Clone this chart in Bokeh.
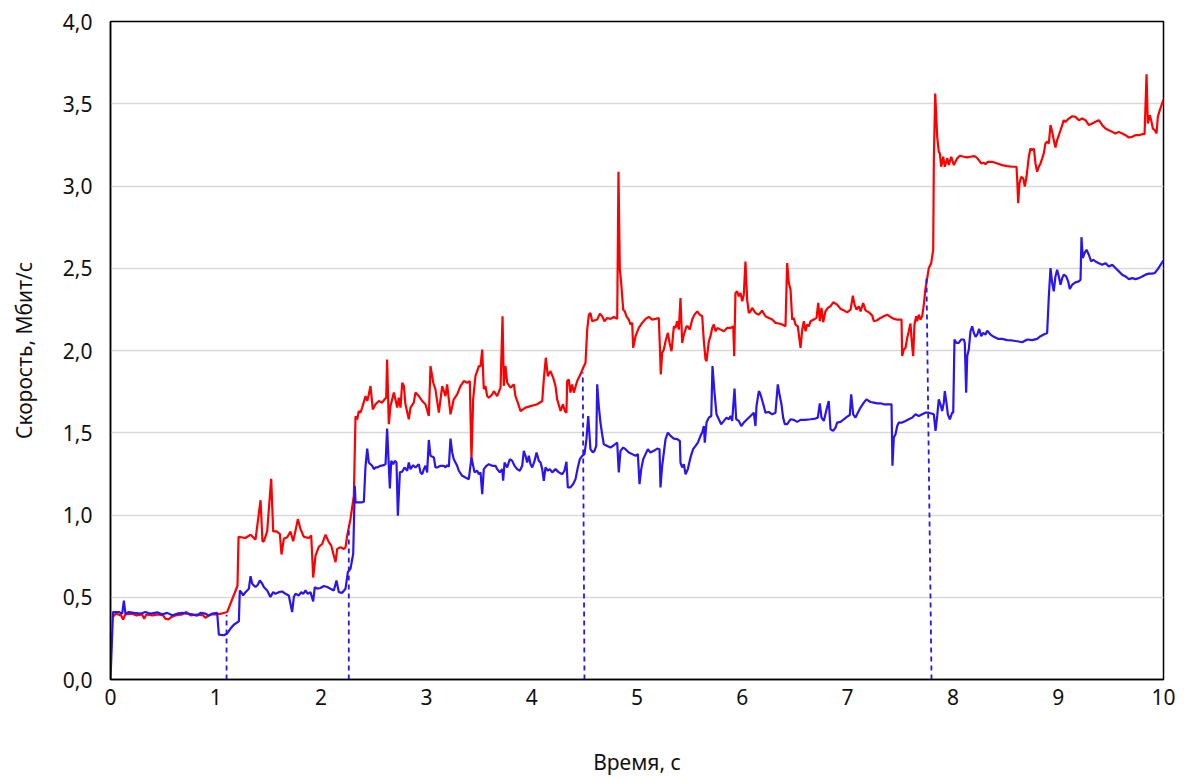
from bokeh.plotting import figure
from bokeh.models import FixedTicker, Range1d
from bokeh.embed import file_html
from bokeh.resources import INLINE

# (time s, speed Mbit/s)
red_points = [
    (0.020, 0.380), (0.050, 0.400), (0.100, 0.390), (0.120, 0.365), (0.140, 0.395), (0.200, 0.400),
    (0.250, 0.390), (0.300, 0.395), (0.320, 0.370), (0.340, 0.395), (0.400, 0.390), (0.450, 0.395),
    (0.500, 0.390), (0.520, 0.370), (0.550, 0.365), (0.580, 0.380), (0.620, 0.390), (0.680, 0.395),
    (0.720, 0.410), (0.760, 0.390), (0.820, 0.395), (0.880, 0.390), (0.900, 0.375), (0.950, 0.395),
    (1.000, 0.395), (1.050, 0.400), (1.108, 0.410),
    (1.206, 0.570), (1.216, 0.867), (1.280, 0.860), (1.330, 0.880), (1.377, 0.850), (1.425, 1.090),
    (1.443, 0.840), (1.456, 0.840), (1.488, 0.900), (1.526, 1.220), (1.545, 0.900), (1.576, 0.900),
    (1.608, 0.885), (1.624, 0.760), (1.646, 0.855), (1.678, 0.865), (1.709, 0.900), (1.735, 0.840),
    (1.757, 0.905), (1.779, 0.975), (1.804, 0.915), (1.836, 0.867), (1.883, 0.860), (1.906, 0.875),
    (1.925, 0.620), (1.947, 0.753), (1.978, 0.806), (2.010, 0.824), (2.042, 0.880), (2.073, 0.835),
    (2.096, 0.814), (2.137, 0.713), (2.153, 0.794), (2.184, 0.804), (2.216, 0.794), (2.232, 0.804),
    (2.248, 0.875), (2.279, 0.976), (2.311, 1.117), (2.327, 1.600),
    (2.343, 1.580), (2.358, 1.632), (2.374, 1.622), (2.390, 1.653), (2.422, 1.723), (2.438, 1.693),
    (2.453, 1.733), (2.469, 1.784), (2.491, 1.642), (2.517, 1.673), (2.548, 1.693), (2.580, 1.683),
    (2.602, 1.703), (2.618, 1.713), (2.627, 1.945), (2.643, 1.552), (2.659, 1.662), (2.691, 1.744),
    (2.723, 1.653), (2.738, 1.713), (2.754, 1.653), (2.770, 1.804), (2.786, 1.784), (2.801, 1.673),
    (2.833, 1.582), (2.849, 1.653), (2.880, 1.683), (2.896, 1.744), (2.928, 1.723), (2.960, 1.693),
    (2.991, 1.673), (3.023, 1.602), (3.039, 1.905), (3.065, 1.804), (3.086, 1.764), (3.118, 1.622),
    (3.150, 1.784), (3.181, 1.723), (3.197, 1.794), (3.213, 1.703), (3.229, 1.612), (3.260, 1.703),
    (3.292, 1.733), (3.324, 1.784), (3.355, 1.814), (3.387, 1.804), (3.412, 1.814), (3.428, 1.340),
    (3.444, 1.703), (3.466, 1.844), (3.498, 1.905), (3.514, 1.905), (3.530, 2.006), (3.545, 1.764),
    (3.561, 1.784), (3.577, 1.723), (3.593, 1.713), (3.625, 1.733), (3.640, 1.753), (3.672, 1.723),
    (3.704, 1.774), (3.723, 2.208), (3.735, 1.784), (3.751, 1.905), (3.767, 1.804), (3.799, 1.774),
    (3.830, 1.794), (3.846, 1.723), (3.868, 1.683), (3.894, 1.632), (3.941, 1.653), (3.989, 1.662),
    (4.052, 1.673), (4.100, 1.693), (4.115, 1.824), (4.134, 1.956), (4.153, 1.844), (4.179, 1.875),
    (4.204, 1.834), (4.226, 1.784), (4.242, 1.703), (4.274, 1.632), (4.296, 1.673), (4.315, 1.632),
    (4.330, 1.622), (4.337, 1.814), (4.352, 1.824), (4.368, 1.744), (4.384, 1.794), (4.400, 1.744),
    (4.432, 1.814), (4.463, 1.855), (4.489, 1.895), (4.511, 1.926), (4.527, 2.127), (4.543, 2.218),
    (4.558, 2.228), (4.574, 2.178), (4.622, 2.188), (4.647, 2.224), (4.669, 2.208), (4.691, 2.178),
    (4.717, 2.198), (4.748, 2.192), (4.780, 2.204), (4.812, 2.192), (4.824, 3.087), (4.837, 2.491),
    (4.850, 2.410), (4.869, 2.248), (4.884, 2.238), (4.900, 2.208), (4.922, 2.188), (4.938, 2.158),
    (4.954, 2.168), (4.964, 2.016), (4.986, 2.087), (5.017, 2.137), (5.049, 2.168), (5.081, 2.192),
    (5.112, 2.204), (5.144, 2.188), (5.176, 2.192), (5.207, 2.198), (5.217, 2.026), (5.226, 1.855),
    (5.239, 1.986), (5.255, 2.006), (5.271, 2.056), (5.293, 2.107), (5.312, 2.036), (5.328, 1.996),
    (5.350, 2.147), (5.366, 2.137), (5.381, 2.178), (5.397, 2.127), (5.413, 2.319), (5.429, 2.046),
    (5.445, 2.097), (5.470, 2.147), (5.483, 2.147), (5.502, 2.127), (5.524, 2.188), (5.546, 2.218),
    (5.572, 2.238), (5.596, 2.218), (5.619, 2.208), (5.635, 2.056), (5.651, 1.945), (5.660, 1.935),
    (5.682, 2.056), (5.698, 2.087), (5.714, 2.137), (5.730, 2.158), (5.746, 2.117), (5.762, 2.137),
    (5.793, 2.127), (5.825, 2.117), (5.856, 2.137), (5.888, 2.137), (5.914, 2.147), (5.923, 1.966),
    (5.935, 2.350), (5.951, 2.360), (5.967, 2.329), (5.983, 2.350), (5.999, 2.299), (6.014, 2.339),
    (6.030, 2.541), (6.046, 2.309), (6.062, 2.228), (6.078, 2.238), (6.094, 2.259), (6.125, 2.228),
    (6.157, 2.218), (6.188, 2.242), (6.220, 2.208), (6.252, 2.198), (6.284, 2.188), (6.315, 2.168),
    (6.347, 2.164), (6.379, 2.158), (6.410, 2.147), (6.426, 2.531), (6.442, 2.410), (6.458, 2.370),
    (6.474, 2.188), (6.489, 2.198), (6.505, 2.158), (6.527, 2.147), (6.553, 2.016), (6.569, 2.127),
    (6.584, 2.178), (6.600, 2.117), (6.616, 2.158), (6.632, 2.147), (6.648, 2.178), (6.679, 2.188),
    (6.705, 2.198), (6.721, 2.289), (6.736, 2.178), (6.752, 2.259), (6.768, 2.172), (6.790, 2.238),
    (6.812, 2.259), (6.838, 2.269), (6.863, 2.293), (6.901, 2.279), (6.933, 2.253), (6.964, 2.244),
    (6.996, 2.232), (7.028, 2.248), (7.050, 2.333), (7.066, 2.279), (7.085, 2.248), (7.107, 2.269),
    (7.123, 2.238), (7.148, 2.289), (7.170, 2.244), (7.202, 2.232), (7.234, 2.212), (7.249, 2.178),
    (7.281, 2.184), (7.312, 2.198), (7.344, 2.208), (7.376, 2.218), (7.407, 2.204), (7.439, 2.192),
    (7.471, 2.188), (7.512, 2.188), (7.518, 1.966), (7.534, 2.006), (7.550, 2.016), (7.566, 2.077),
    (7.581, 2.117), (7.597, 2.164), (7.613, 2.026), (7.623, 1.966), (7.635, 2.158), (7.651, 2.208),
    (7.661, 2.178), (7.676, 2.218), (7.692, 2.188), (7.708, 2.208), (7.724, 2.279), (7.740, 2.380),
    (7.756, 2.441), (7.771, 2.501), (7.794, 2.531), (7.813, 2.612), (7.819, 3.158), (7.832, 3.562),
    (7.851, 3.299), (7.866, 3.208), (7.876, 3.198), (7.889, 3.117), (7.908, 3.178), (7.923, 3.117),
    (7.946, 3.168), (7.961, 3.127), (7.984, 3.178), (8.009, 3.127), (8.041, 3.168), (8.066, 3.184),
    (8.104, 3.178), (8.136, 3.174), (8.167, 3.178), (8.199, 3.182), (8.224, 3.174), (8.246, 3.158),
    (8.269, 3.137), (8.294, 3.141), (8.310, 3.133), (8.332, 3.147), (8.373, 3.147), (8.421, 3.137),
    (8.468, 3.127), (8.516, 3.121), (8.563, 3.117), (8.604, 3.117), (8.611, 3.036), (8.620, 2.895),
    (8.632, 3.016), (8.649, 3.056), (8.668, 3.046), (8.683, 2.996), (8.699, 3.056), (8.721, 3.178),
    (8.737, 3.228), (8.753, 3.218), (8.769, 3.228), (8.784, 3.137), (8.800, 3.087), (8.816, 3.117),
    (8.832, 3.137), (8.848, 3.168), (8.863, 3.198), (8.879, 3.259), (8.895, 3.269), (8.911, 3.259),
    (8.927, 3.370), (8.943, 3.329), (8.958, 3.279), (8.974, 3.234), (8.990, 3.279), (9.006, 3.309),
    (9.022, 3.339), (9.038, 3.370), (9.053, 3.400), (9.069, 3.390), (9.101, 3.410), (9.133, 3.424),
    (9.164, 3.420), (9.196, 3.400), (9.228, 3.410), (9.259, 3.400), (9.291, 3.370), (9.323, 3.380),
    (9.354, 3.390), (9.386, 3.400), (9.418, 3.370), (9.449, 3.349), (9.481, 3.339), (9.513, 3.329),
    (9.544, 3.319), (9.576, 3.329), (9.608, 3.319), (9.639, 3.309), (9.671, 3.295), (9.703, 3.299),
    (9.734, 3.309), (9.766, 3.309), (9.798, 3.315), (9.820, 3.315), (9.839, 3.679), (9.851, 3.380),
    (9.870, 3.430), (9.883, 3.400), (9.899, 3.349), (9.917, 3.339), (9.934, 3.319), (9.946, 3.420),
    (9.965, 3.461), (9.981, 3.491), (10.000, 3.525),
]

blue_points = [
    (0.000, 0.000), (0.024, 0.410), (0.047, 0.410), (0.079, 0.410), (0.111, 0.400), (0.127, 0.480),
    (0.142, 0.400), (0.174, 0.410), (0.222, 0.405), (0.285, 0.400), (0.332, 0.410), (0.380, 0.400),
    (0.443, 0.408), (0.491, 0.396), (0.538, 0.405), (0.586, 0.390), (0.633, 0.400), (0.681, 0.405),
    (0.728, 0.400), (0.776, 0.396), (0.823, 0.388), (0.855, 0.405), (0.902, 0.400), (0.934, 0.388),
    (0.965, 0.400), (1.013, 0.405), (1.029, 0.273), (1.076, 0.269), (1.108, 0.280), (1.140, 0.310),
    (1.171, 0.333), (1.219, 0.353),
    (1.228, 0.541), (1.241, 0.531), (1.260, 0.511), (1.282, 0.531), (1.314, 0.552), (1.330, 0.628),
    (1.346, 0.582), (1.361, 0.572), (1.377, 0.562), (1.399, 0.576), (1.418, 0.602), (1.441, 0.582),
    (1.456, 0.562), (1.488, 0.541), (1.519, 0.501), (1.545, 0.531), (1.567, 0.521), (1.599, 0.531),
    (1.630, 0.535), (1.662, 0.521), (1.693, 0.511), (1.725, 0.410), (1.741, 0.501), (1.757, 0.521),
    (1.789, 0.511), (1.811, 0.531), (1.830, 0.521), (1.852, 0.541), (1.874, 0.521), (1.899, 0.531),
    (1.925, 0.475), (1.940, 0.562), (1.963, 0.552), (1.994, 0.556), (2.026, 0.568), (2.058, 0.562),
    (2.089, 0.552), (2.121, 0.541), (2.146, 0.602), (2.168, 0.531), (2.200, 0.527), (2.232, 0.552),
    (2.254, 0.653), (2.279, 0.673), (2.305, 0.764), (2.320, 1.178),
    (2.327, 1.077), (2.358, 1.077), (2.390, 1.077), (2.406, 1.081), (2.422, 1.299), (2.438, 1.404),
    (2.453, 1.319), (2.469, 1.309), (2.485, 1.299), (2.501, 1.279), (2.517, 1.289), (2.533, 1.289),
    (2.564, 1.299), (2.596, 1.303), (2.612, 1.309), (2.627, 1.525), (2.643, 1.299), (2.653, 1.162),
    (2.666, 1.329), (2.685, 1.309), (2.700, 1.329), (2.716, 1.319), (2.729, 0.996), (2.748, 1.259),
    (2.770, 1.263), (2.792, 1.289), (2.818, 1.269), (2.833, 1.319), (2.849, 1.279), (2.874, 1.303),
    (2.896, 1.289), (2.928, 1.309), (2.944, 1.259), (2.960, 1.248), (2.976, 1.279), (2.991, 1.299),
    (3.007, 1.259), (3.023, 1.456), (3.039, 1.360), (3.071, 1.350), (3.086, 1.289), (3.102, 1.289),
    (3.134, 1.299), (3.165, 1.299), (3.181, 1.289), (3.197, 1.303), (3.213, 1.293), (3.229, 1.464),
    (3.245, 1.380), (3.260, 1.339), (3.292, 1.299), (3.308, 1.269), (3.340, 1.238), (3.371, 1.228),
    (3.403, 1.218), (3.428, 1.350), (3.457, 1.259), (3.482, 1.269), (3.498, 1.248), (3.514, 1.259),
    (3.530, 1.127), (3.545, 1.279), (3.571, 1.299), (3.593, 1.309), (3.625, 1.299), (3.656, 1.299),
    (3.672, 1.279), (3.697, 1.259), (3.720, 1.279), (3.729, 1.208), (3.742, 1.319), (3.767, 1.289),
    (3.792, 1.339), (3.815, 1.329), (3.837, 1.299), (3.862, 1.279), (3.887, 1.269), (3.910, 1.299),
    (3.925, 1.390), (3.941, 1.360), (3.957, 1.319), (3.973, 1.360), (3.989, 1.309), (4.005, 1.289),
    (4.027, 1.329), (4.046, 1.380), (4.068, 1.329), (4.084, 1.319), (4.100, 1.279), (4.115, 1.208),
    (4.131, 1.289), (4.153, 1.269), (4.172, 1.279), (4.195, 1.259), (4.226, 1.279), (4.258, 1.259),
    (4.290, 1.248), (4.311, 1.269), (4.330, 1.323), (4.343, 1.168), (4.368, 1.168), (4.394, 1.188),
    (4.416, 1.218), (4.438, 1.289), (4.457, 1.339), (4.480, 1.360), (4.501, 1.370), (4.520, 1.461),
    (4.537, 1.602), (4.558, 1.400), (4.580, 1.380), (4.596, 1.390), (4.613, 1.420), (4.622, 1.794),
    (4.637, 1.662), (4.653, 1.562), (4.669, 1.491), (4.685, 1.430), (4.717, 1.420), (4.748, 1.410),
    (4.780, 1.424), (4.812, 1.440), (4.827, 1.259), (4.843, 1.390), (4.869, 1.410), (4.891, 1.400),
    (4.922, 1.380), (4.954, 1.370), (4.986, 1.360), (5.008, 1.370), (5.024, 1.188), (5.040, 1.279),
    (5.059, 1.339), (5.081, 1.370), (5.103, 1.400), (5.128, 1.380), (5.160, 1.390), (5.192, 1.404),
    (5.214, 1.400), (5.223, 1.168), (5.239, 1.299), (5.255, 1.380), (5.271, 1.461), (5.293, 1.501),
    (5.318, 1.481), (5.350, 1.464), (5.382, 1.461), (5.407, 1.450), (5.413, 1.319), (5.429, 1.289),
    (5.445, 1.309), (5.461, 1.248), (5.483, 1.279), (5.508, 1.350), (5.533, 1.400), (5.556, 1.420),
    (5.578, 1.440), (5.603, 1.481), (5.619, 1.501), (5.635, 1.541), (5.644, 1.440), (5.660, 1.562),
    (5.682, 1.592), (5.705, 1.602), (5.717, 1.905), (5.736, 1.744), (5.755, 1.612), (5.777, 1.582),
    (5.799, 1.552), (5.825, 1.572), (5.850, 1.592), (5.872, 1.582), (5.888, 1.602), (5.904, 1.572),
    (5.926, 1.768), (5.942, 1.582), (5.967, 1.572), (5.990, 1.541), (6.014, 1.562), (6.046, 1.582),
    (6.078, 1.602), (6.109, 1.622), (6.125, 1.541), (6.135, 1.662), (6.157, 1.753), (6.166, 1.744),
    (6.182, 1.713), (6.204, 1.662), (6.220, 1.622), (6.252, 1.626), (6.284, 1.612), (6.315, 1.622),
    (6.337, 1.794), (6.356, 1.723), (6.372, 1.673), (6.388, 1.592), (6.404, 1.552), (6.426, 1.552),
    (6.458, 1.582), (6.489, 1.578), (6.521, 1.566), (6.553, 1.578), (6.600, 1.578), (6.648, 1.582),
    (6.695, 1.586), (6.717, 1.592), (6.736, 1.679), (6.752, 1.592), (6.774, 1.572), (6.800, 1.642),
    (6.821, 1.693), (6.838, 1.521), (6.863, 1.511), (6.885, 1.531), (6.901, 1.562), (6.933, 1.566),
    (6.964, 1.582), (6.996, 1.598), (7.021, 1.608), (7.034, 1.733), (7.053, 1.612), (7.075, 1.592),
    (7.097, 1.622), (7.123, 1.653), (7.154, 1.683), (7.179, 1.703), (7.217, 1.687), (7.249, 1.683),
    (7.281, 1.679), (7.312, 1.679), (7.344, 1.673), (7.376, 1.673), (7.417, 1.673), (7.426, 1.299),
    (7.439, 1.471), (7.455, 1.491), (7.471, 1.541), (7.486, 1.562), (7.518, 1.562), (7.550, 1.572),
    (7.581, 1.582), (7.613, 1.592), (7.645, 1.612), (7.676, 1.602), (7.708, 1.612), (7.740, 1.622),
    (7.771, 1.622), (7.819, 1.612), (7.835, 1.511), (7.851, 1.602), (7.866, 1.703), (7.882, 1.673),
    (7.898, 1.632), (7.914, 1.683), (7.923, 1.753), (7.939, 1.683), (7.952, 1.612), (7.971, 1.582),
    (7.993, 1.622), (8.003, 1.622), (8.015, 2.067), (8.034, 2.046), (8.056, 2.046), (8.079, 2.067),
    (8.104, 2.067), (8.113, 2.046), (8.126, 1.744), (8.136, 1.966), (8.151, 2.006), (8.167, 2.117),
    (8.183, 2.147), (8.199, 2.107), (8.215, 2.083), (8.231, 2.097), (8.250, 2.131), (8.269, 2.087),
    (8.288, 2.107), (8.310, 2.097), (8.326, 2.121), (8.357, 2.097), (8.389, 2.083), (8.427, 2.071),
    (8.468, 2.071), (8.516, 2.063), (8.563, 2.061), (8.611, 2.056), (8.658, 2.050), (8.706, 2.067),
    (8.753, 2.063), (8.800, 2.071), (8.832, 2.087), (8.863, 2.097), (8.895, 2.107), (8.911, 2.329),
    (8.927, 2.501), (8.943, 2.410), (8.958, 2.360), (8.974, 2.450), (8.990, 2.491), (9.006, 2.450),
    (9.022, 2.400), (9.038, 2.440), (9.053, 2.461), (9.076, 2.450), (9.095, 2.420), (9.110, 2.374),
    (9.133, 2.400), (9.164, 2.414), (9.196, 2.420), (9.212, 2.430), (9.221, 2.689), (9.234, 2.562),
    (9.250, 2.592), (9.269, 2.612), (9.291, 2.582), (9.313, 2.541), (9.332, 2.552), (9.354, 2.541),
    (9.386, 2.531), (9.418, 2.521), (9.449, 2.531), (9.481, 2.511), (9.513, 2.521), (9.544, 2.501),
    (9.576, 2.481), (9.608, 2.461), (9.639, 2.450), (9.671, 2.434), (9.703, 2.440), (9.734, 2.434),
    (9.766, 2.440), (9.798, 2.450), (9.829, 2.461), (9.861, 2.467), (9.893, 2.467), (9.917, 2.471),
    (9.946, 2.495), (9.972, 2.521), (10.000, 2.548),
]

# dashed markers of switching moments
switch_t_bottom = [1.102, 2.263, 4.501, 7.797]
switch_t_top = [1.102, 2.263, 4.485, 7.749]
switch_v_top = [0.394, 0.935, 1.867, 2.442]

x_ticks = [0, 1, 2, 3, 4, 5, 6, 7, 8, 9, 10]
y_ticks = [0.0, 0.5, 1.0, 1.5, 2.0, 2.5, 3.0, 3.5, 4.0]
y_tick_labels = ["0,0", "0,5", "1,0", "1,5", "2,0", "2,5", "3,0", "3,5", "4,0"]
x_title = "Время, с"
y_title = "Скорость, Мбит/с"

red_t = [p[0] for p in red_points]
red_v = [p[1] for p in red_points]
blue_t = [p[0] for p in blue_points]
blue_v = [p[1] for p in blue_points]

FONT = "Noto Sans"
RED = "#FF0000"
BLUE = "#2A14F0"

p = figure(width=1193, height=778, output_backend="svg", toolbar_location=None,
           x_range=Range1d(0, 10), y_range=Range1d(0, 4))
p.min_border_left = 110
p.min_border_right = 30
p.min_border_top = 21
p.min_border_bottom = 97
p.background_fill_color = "white"
p.border_fill_color = "white"
p.outline_line_color = "black"
p.outline_line_width = 1.5

p.xgrid.grid_line_color = None
p.ygrid.grid_line_color = "#d9d9d9"
p.ygrid.grid_line_width = 1.5

p.xaxis.ticker = FixedTicker(ticks=x_ticks)
p.yaxis.ticker = FixedTicker(ticks=y_ticks)
p.yaxis.major_label_overrides = {t: l for t, l in zip(y_ticks, y_tick_labels)}

for ax in (p.xaxis[0], p.yaxis[0]):
    ax.axis_line_color = "black"
    ax.axis_line_width = 1.5
    ax.major_tick_line_color = None
    ax.minor_tick_line_color = None
    ax.major_label_text_font = FONT
    ax.major_label_text_font_size = "21px"
    ax.major_label_text_color = "#111111"
    ax.axis_label_text_font = FONT
    ax.axis_label_text_font_size = "21px"
    ax.axis_label_text_font_style = "normal"
    ax.axis_label_text_color = "#111111"

p.xaxis.major_label_standoff = 3
p.xaxis.axis_label = x_title
p.xaxis.axis_label_standoff = 40
p.yaxis.major_label_standoff = 12
p.yaxis.axis_label = y_title
p.yaxis.axis_label_standoff = 22

p.line(red_t, red_v, line_color=RED, line_width=2.2)
p.line(blue_t, blue_v, line_color=BLUE, line_width=2.2)
p.segment(x0=switch_t_bottom, y0=[0] * len(switch_t_bottom), x1=switch_t_top, y1=switch_v_top,
          line_color=BLUE, line_width=1.8, line_dash="5 4")

open("out.html", "w").write(file_html(p, INLINE))
